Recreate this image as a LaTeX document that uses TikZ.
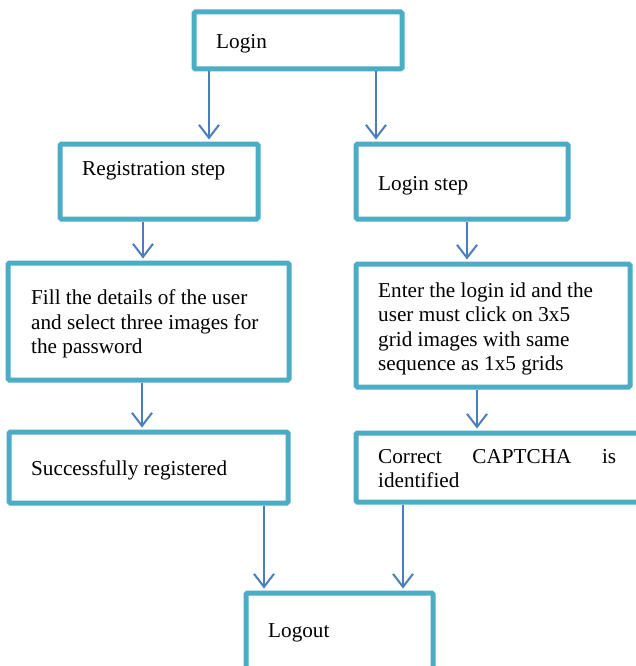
\documentclass[tikz,border=0pt]{standalone}
\usepackage{fontspec}
\setmainfont{Liberation Serif}
\usetikzlibrary{arrows.meta,calc}
\definecolor{boxcol}{HTML}{4BACC6}
\definecolor{arrcol}{HTML}{4A7EBB}
\tikzset{
  box/.style={draw=boxcol, line width=5pt, rounded corners=1.5pt, fill=white,
    anchor=north west, inner sep=0pt, outer sep=0pt},
  txt/.style={anchor=base west, inner sep=0pt, font=\fontsize{21.2}{24.5}\selectfont},
  arr/.style={draw=arrcol, line width=2pt, shorten <=2.5pt, shorten >=4.5pt,
    -{Straight Barb[length=13pt,width=20pt,line width=2pt]}}
}
\begin{document}
\begin{tikzpicture}[x=1pt,y=-1pt]
\clip (0,0) rectangle (636,666);
\fill[white] (0,0) rectangle (636,666);

% boxes
\node[box, minimum width=208pt, minimum height=57pt] (login)  at (194,12)  {};
\node[box, minimum width=198pt, minimum height=75pt] (reg)    at (60,144)  {};
\node[box, minimum width=212pt, minimum height=75pt] (lstep)  at (356,144) {};
\node[box, minimum width=281pt, minimum height=117pt] (fill)  at (8,263)   {};
\node[box, minimum width=274pt, minimum height=123pt] (enter) at (356,264) {};
\node[box, minimum width=279pt, minimum height=71pt] (succ)   at (9,432)   {};
\node[box, minimum width=300pt, minimum height=69pt] (corr)   at (356,433) {};
\node[box, minimum width=187pt, minimum height=100pt] (logout) at (246,593) {};

% labels
\node[txt] (tLogin) at (216,49) {Login};
\node[txt] (tReg) at (82,175) {Registration step};
\node[txt] (tLstep) at (378,190) {Login step};
\node[txt] (tFillA) at (31,304.5) {Fill the details of the user};
\node[txt] (tFillB) at (31,329) {and select three images for};
\node[txt] (tFillC) at (31,353.5) {the password};
\node[txt] (tEnterA) at (378,297) {Enter the login id and the};
\node[txt] (tEnterB) at (378,321.5) {user must click on 3x5};
\node[txt] (tEnterC) at (378,346) {grid images with same};
\node[txt] (tEnterD) at (378,370.5) {sequence as 1x5 grids};
\node[txt] (tSucc) at (31,475) {Successfully registered};
\node[txt] (tCorrA) at (378,463) {\makebox[238pt][s]{Correct CAPTCHA is}};
\node[txt] (tCorrB) at (378,487) {identified};
\node[txt] (tLogout) at (268,637) {Logout};

% connectors
\draw[arr] ([xshift=15pt]login.south west) -- ([xshift=15pt]login.south west |- reg.north);
\draw[arr] ([xshift=182pt]login.south west) -- ([xshift=182pt]login.south west |- lstep.north);
\draw[arr] ([xshift=83pt]reg.south west) -- ([xshift=83pt]reg.south west |- fill.north);
\draw[arr] ([xshift=111pt]lstep.south west) -- ([xshift=111pt]lstep.south west |- enter.north);
\draw[arr] ([xshift=134pt]fill.south west) -- ([xshift=134pt]fill.south west |- succ.north);
\draw[arr] ([xshift=121pt]enter.south west) -- ([xshift=121pt]enter.south west |- corr.north);
\draw[arr] ([xshift=255pt]succ.south west) -- ([xshift=255pt]succ.south west |- logout.north);
\draw[arr] ([xshift=47pt]corr.south west) -- ([xshift=47pt]corr.south west |- logout.north);
\end{tikzpicture}
\end{document}
